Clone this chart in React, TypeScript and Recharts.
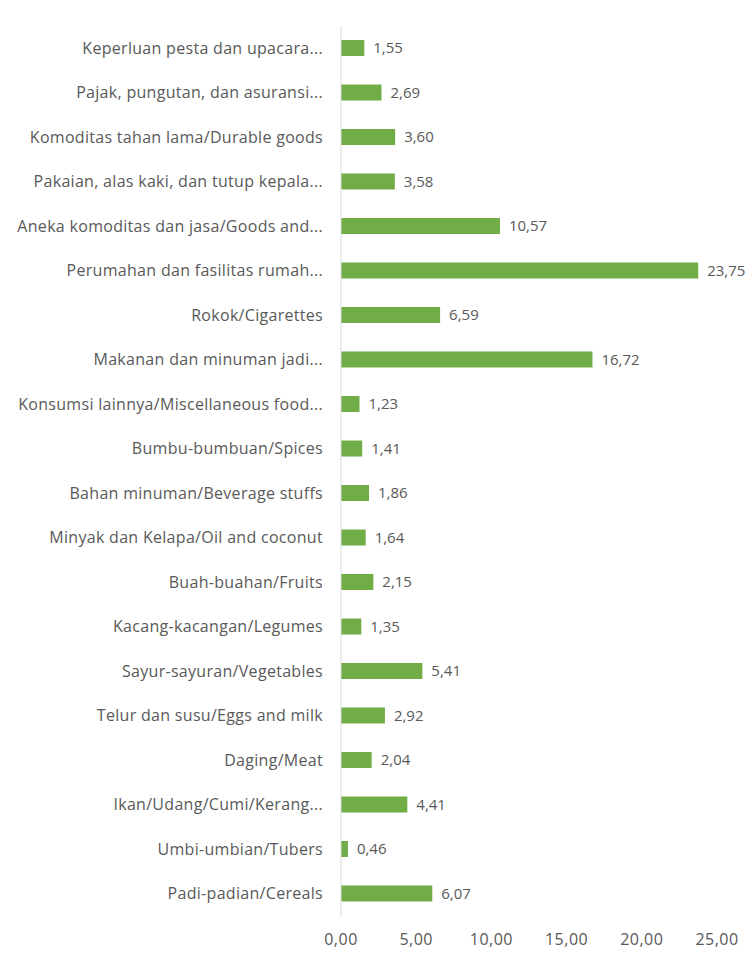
import React from "react";
import { BarChart, Bar, XAxis, YAxis, LabelList } from "recharts";

const categories = [
  "Keperluan pesta dan upacara...",
  "Pajak, pungutan, dan  asuransi...",
  "Komoditas tahan lama/Durable goods",
  "Pakaian, alas kaki, dan tutup kepala...",
  "Aneka komoditas dan jasa/Goods and...",
  "Perumahan dan fasilitas rumah...",
  "Rokok/Cigarettes",
  "Makanan dan minuman jadi...",
  "Konsumsi lainnya/Miscellaneous food...",
  "Bumbu-bumbuan/Spices",
  "Bahan minuman/Beverage stuffs",
  "Minyak dan Kelapa/Oil and coconut",
  "Buah-buahan/Fruits",
  "Kacang-kacangan/Legumes",
  "Sayur-sayuran/Vegetables",
  "Telur dan susu/Eggs and milk",
  "Daging/Meat",
  "Ikan/Udang/Cumi/Kerang...",
  "Umbi-umbian/Tubers",
  "Padi-padian/Cereals",
];

const values = [
  1.55, 2.69, 3.6, 3.58, 10.57, 23.75, 6.59, 16.72, 1.23, 1.41, 1.86, 1.64,
  2.15, 1.35, 5.41, 2.92, 2.04, 4.41, 0.46, 6.07,
];

const xTicks = [0, 5, 10, 15, 20, 25];

const data = categories.map((name, i) => ({ name, value: values[i] }));

const fmt = (v: number) => v.toFixed(2).replace(".", ",");

const FONT = "'Open Sans', sans-serif";
const TEXT = "#595959";

export default function App() {
  return (
    <div style={{ position: "relative", width: 745, height: 950 }}>
      <div
        style={{
          position: "absolute",
          top: -6,
          left: -8,
          width: 753,
          borderTop: "1px solid #d9d9d9",
        }}
      />
      <BarChart
        width={745}
        height={950}
        data={data}
        layout="vertical"
        margin={{ top: 18, right: 36, left: 0, bottom: 2 }}
        barCategoryGap={0}
      >
        <XAxis
          type="number"
          domain={[0, 25]}
          ticks={xTicks}
          tickFormatter={fmt}
          axisLine={false}
          tickLine={false}
          tickSize={0}
          tickMargin={18}
          height={40}
          tick={{ fill: TEXT, fontSize: 16, fontFamily: FONT, letterSpacing: 0.5 }}
          interval={0}
        />
        <YAxis
          type="category"
          dataKey="name"
          width={333}
          axisLine={{ stroke: "#d9d9d9" }}
          tickLine={false}
          tickSize={0}
          tickMargin={18}
          interval={0}
          tick={{ fill: TEXT, fontSize: 16, fontFamily: FONT, letterSpacing: 0.3 }}
        />
        <Bar dataKey="value" fill="#70ad47" barSize={16} isAnimationActive={false}>
          <LabelList
            dataKey="value"
            position="right"
            offset={9}
            formatter={(v: any) => fmt(Number(v))}
            style={{ fill: TEXT, fontSize: 15, fontFamily: FONT }}
          />
        </Bar>
      </BarChart>
    </div>
  );
}
